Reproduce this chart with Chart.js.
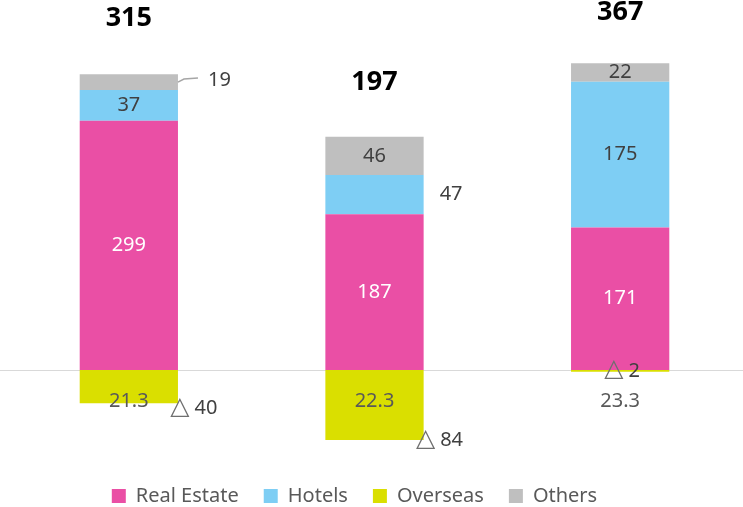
<!DOCTYPE html>
<html>
<head>
<meta charset="utf-8">
<script src="https://cdn.jsdelivr.net/npm/chart.js@4"></script>
<style>
  html, body { margin: 0; padding: 0; background: #ffffff; }
  #wrap { width: 743px; height: 507px; }
</style>
</head>
<body>
<div id="wrap"><canvas id="c" width="743" height="507"></canvas></div>
<script>
// ---- data ----
const categories = ["21.3", "22.3", "23.3"];
const realEstate = [299, 187, 171];
const hotels = [37, 47, 175];
const overseas = [-40, -84, -2];
const others = [19, 46, 22];
const totals = [315, 197, 367];

// ---- label placement (style only) ----
const FONT = '"Noto Sans", "Open Sans", sans-serif';
const placement = {
  0: [{mode: 'center'}, {mode: 'center'}, {mode: 'center'}],
  1: [{mode: 'center'}, {mode: 'right', dx: 16}, {mode: 'center'}],
  2: [{mode: 'free', dx: 65, dy: 22}, {mode: 'free', dx: 65, dy: 35}, {mode: 'free', dx: 2, dy: 0}],
  3: [{mode: 'leader', dx: 30}, {mode: 'center'}, {mode: 'center'}]
};
const totalOffsets = [-56, -54, -51];
const labelColors = ['#ffffff', '#404040', '#404040', '#404040'];

const labelPlugin = {
  id: 'labels',
  afterLayout(chart) {
    if (chart.legend) {
      chart.legend.right -= 43;
    }
  },
  beforeDatasetsDraw(chart) {
    const {ctx, scales} = chart;
    const y0 = scales.y.getPixelForValue(0);
    ctx.save();
    ctx.strokeStyle = '#d9d9d9';
    ctx.lineWidth = 1;
    ctx.beginPath();
    ctx.moveTo(0, Math.round(y0) + 0.5);
    ctx.lineTo(743, Math.round(y0) + 0.5);
    ctx.stroke();
    ctx.restore();
  },
  afterDatasetsDraw(chart) {
    const {ctx, scales} = chart;
    const y0 = scales.y.getPixelForValue(0);
    ctx.save();
    ctx.textBaseline = 'middle';
    chart.data.datasets.forEach((ds, di) => {
      const meta = chart.getDatasetMeta(di);
      meta.data.forEach((bar, i) => {
        const v = ds.data[i];
        const cy = (bar.y + bar.base) / 2;
        const right = bar.x + bar.width / 2;
        const p = placement[di][i];
        ctx.font = '20px ' + FONT;
        ctx.fillStyle = labelColors[di];
        if (di === 2) {
          const x = bar.x + p.dx, y = cy + p.dy;
          const txt = String(Math.abs(v));
          ctx.font = '25px "DejaVu Sans", sans-serif';
          const tw = ctx.measureText('\u25B3').width;
          ctx.font = '20px ' + FONT;
          const nw = ctx.measureText(txt).width;
          const total = tw + 5 + nw;
          const sx = x - total / 2;
          ctx.textAlign = 'left';
          ctx.font = '25px "DejaVu Sans", sans-serif';
          ctx.fillStyle = '#6f6f6f';
          ctx.fillText('\u25B3', sx, y - 1);
          ctx.font = '20px ' + FONT;
          ctx.fillStyle = '#404040';
          ctx.fillText(txt, sx + tw + 5, y);
          return;
        }
        if (p.mode === 'center') {
          ctx.textAlign = 'center';
          ctx.fillText(String(v), bar.x, cy);
        } else if (p.mode === 'right') {
          ctx.textAlign = 'left';
          ctx.fillText(String(v), right + p.dx, cy);
        } else if (p.mode === 'leader') {
          ctx.strokeStyle = '#a6a6a6';
          ctx.lineWidth = 1.5;
          ctx.beginPath();
          ctx.moveTo(right, cy);
          ctx.lineTo(right + 6, cy - 3);
          ctx.lineTo(right + 20, cy - 4);
          ctx.stroke();
          ctx.textAlign = 'left';
          ctx.fillText(String(v), right + p.dx, cy - 2);
        }
      });
    });
    const meta0 = chart.getDatasetMeta(0);
    ctx.font = '20px ' + FONT;
    ctx.fillStyle = '#595959';
    ctx.textAlign = 'center';
    meta0.data.forEach((bar, i) => {
      ctx.fillText(chart.data.labels[i], bar.x, y0 + 31);
    });
    const metaTop = chart.getDatasetMeta(3);
    ctx.font = 'bold 27px ' + FONT;
    ctx.fillStyle = '#000000';
    metaTop.data.forEach((bar, i) => {
      ctx.fillText(String(totals[i]), bar.x, bar.y + totalOffsets[i]);
    });
    ctx.restore();
  }
};

new Chart(document.getElementById('c'), {
  type: 'bar',
  data: {
    labels: categories,
    datasets: [
      {label: 'Real Estate', data: realEstate, backgroundColor: '#EA4FA5'},
      {label: 'Hotels', data: hotels, backgroundColor: '#7ECEF4'},
      {label: 'Overseas', data: overseas, backgroundColor: '#DADF00'},
      {label: 'Others', data: others, backgroundColor: '#BFBFBF'}
    ]
  },
  options: {
    responsive: false,
    animation: false,
    devicePixelRatio: 1,
    layout: {padding: {left: 6, right: -3, top: 0, bottom: -9}},
    datasets: {bar: {categoryPercentage: 1, barPercentage: 0.4}},
    scales: {
      x: {stacked: true, display: false},
      y: {stacked: true, display: false, min: -109.2, max: 444}
    },
    plugins: {
      tooltip: {enabled: false},
      legend: {
        position: 'bottom',
        labels: {
          font: {family: FONT, size: 20},
          color: '#595959',
          boxWidth: 14,
          boxHeight: 14,
          padding: 25
        }
      }
    }
  },
  plugins: [labelPlugin]
});
</script>
</body>
</html>
